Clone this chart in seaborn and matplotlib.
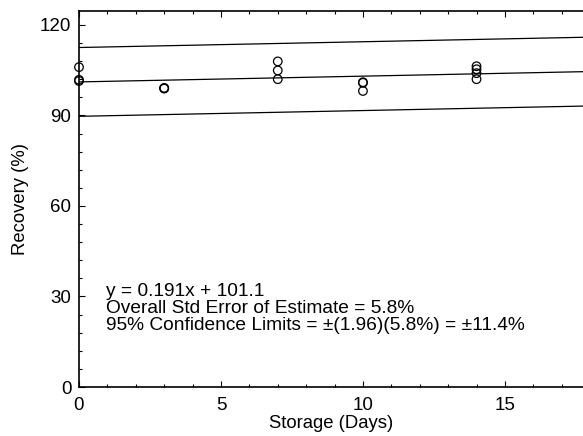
import matplotlib
matplotlib.use("Agg")
import matplotlib.pyplot as plt
from matplotlib.ticker import MultipleLocator
import numpy as np
import pandas as pd
import seaborn as sns

# Recovery measurements at each storage time
days = [0, 0, 0, 3, 3, 3, 7, 7, 7, 10, 10, 10, 14, 14, 14, 14]
recovery = [106.0, 101.8, 101.4, 99.1, 99.0, 98.9, 107.9, 104.9, 102.0,
            101.0, 100.8, 98.1, 106.3, 105.3, 104.0, 102.0]

# Regression results
slope = 0.191
intercept = 101.1
std_err = 5.8
z95 = 1.96
conf = 11.4

x_ticks = [0, 5, 10, 15]
y_ticks = [0, 30, 60, 90, 120]

sns.set_theme(style="ticks")
plt.rcParams["font.family"] = ["Liberation Sans", "DejaVu Sans"]
plt.rcParams["text.color"] = "black"
plt.rcParams["axes.labelcolor"] = "black"

fig = plt.figure(figsize=(5.83, 4.36), dpi=100)
ax = fig.add_axes([79 / 583, 1 - 387 / 436, 1 - 79 / 583, (387 - 11) / 436])

xmax = 17.75
xs = np.array([0.0, xmax])
fit = pd.DataFrame({
    "x": np.concatenate([xs, xs, xs]),
    "y": np.concatenate([slope * xs + intercept,
                         slope * xs + intercept + conf,
                         slope * xs + intercept - conf]),
    "line": ["fit"] * 2 + ["upper"] * 2 + ["lower"] * 2,
})
sns.lineplot(data=fit, x="x", y="y", units="line", estimator=None,
             color="black", linewidth=0.9, ax=ax, legend=False)

pts = pd.DataFrame({"days": days, "recovery": recovery})
sns.scatterplot(data=pts, x="days", y="recovery", ax=ax, s=38,
                facecolor="none", edgecolor="black", linewidth=0.9,
                clip_on=False, zorder=5)

ax.set_xlim(0, xmax)
ax.set_ylim(0, 124.6)
ax.set_xticks(x_ticks)
ax.set_yticks(y_ticks)
ax.xaxis.set_minor_locator(MultipleLocator(1))
ax.yaxis.set_minor_locator(MultipleLocator(6))
ax.tick_params(axis="both", which="both", direction="in", colors="black",
               labelsize=13.5, top=True, right=False)
ax.tick_params(which="major", length=4, width=0.8)
ax.tick_params(which="minor", length=2.5, width=0.8)
ax.tick_params(axis="x", which="major", pad=7)
ax.tick_params(axis="y", which="major", pad=5.5)
for side in ["left", "bottom", "top"]:
    ax.spines[side].set_color("black")
    ax.spines[side].set_linewidth(1.2)
ax.spines["right"].set_visible(False)

ax.set_xlabel("Storage (Days)", fontsize=13.3, labelpad=1)
ax.set_ylabel("Recovery (%)", fontsize=13.3, labelpad=8)

note = (f"y = {slope:.3f}x + {intercept:.1f}\n"
        f"Overall Std Error of Estimate = {std_err:.1f}%\n"
        f"95% Confidence Limits = \u00b1({z95:.2f})({std_err:.1f}%) = \u00b1{conf:.1f}%")
ax.text(0.95, 17.5, note, fontsize=13.8, ha="left", va="bottom",
        linespacing=1.0, color="black")

fig.savefig("out.png", dpi=100)
